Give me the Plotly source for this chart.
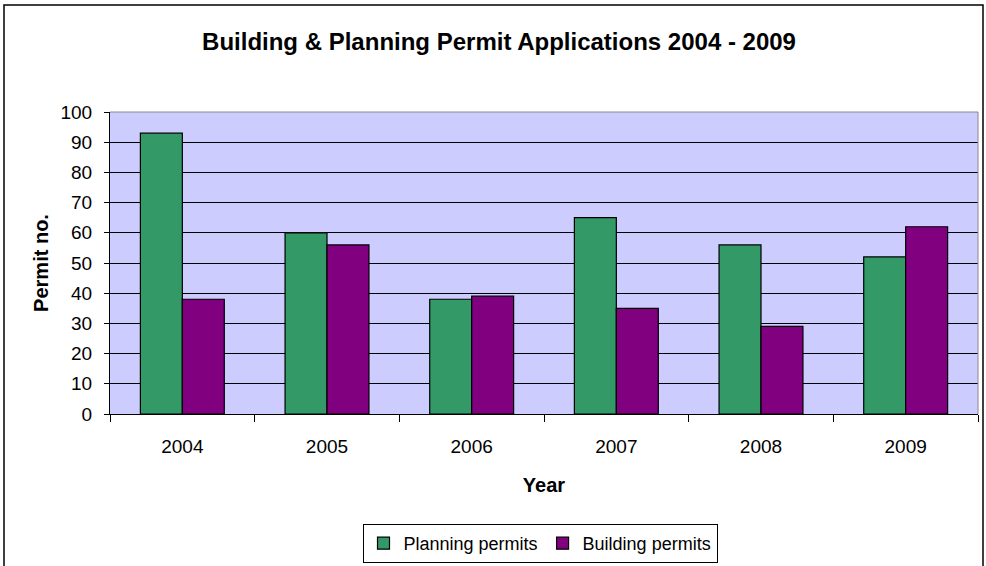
import plotly.graph_objects as go

years = ["2004", "2005", "2006", "2007", "2008", "2009"]
planning = [93, 60, 38, 65, 56, 52]
building = [38, 56, 39, 35, 29, 62]

W, H = 986, 566
L, R, T, B = 110, 8, 112, 152
pw, ph = W - L - R, H - T - B

def px(x):
    return (x - L) / pw

def py(y):
    return (H - B - y) / ph

fig = go.Figure()
fig.add_trace(go.Bar(x=years, y=planning, name="Planning permits",
                     marker=dict(color="#339966", line=dict(color="black", width=1.2))))
fig.add_trace(go.Bar(x=years, y=building, name="Building permits",
                     marker=dict(color="#800080", line=dict(color="black", width=1.2))))

fig.update_layout(
    width=W, height=H,
    autosize=False,
    margin=dict(l=L, r=R, t=T, b=B, autoexpand=False),
    paper_bgcolor="white",
    plot_bgcolor="#CCCCFF",
    font=dict(family="Arial", size=19, color="black"),
    title=dict(text="<b>Building & Planning Permit Applications 2004 - 2009</b>",
               x=px(499), xref="paper", xanchor="center", y=1 - 42 / H, yanchor="middle",
               font=dict(size=24)),
    barmode="group",
    bargap=0.42,
    bargroupgap=0,
    showlegend=True,
    legend=dict(orientation="h", x=px(540), xanchor="center", y=py(524), yanchor="top",
                bordercolor="black", borderwidth=1, bgcolor="white",
                font=dict(size=18), itemwidth=30, traceorder="normal",
                tracegroupgap=0),
    xaxis=dict(
        title=dict(text="<b>Year</b>", font=dict(size=20), standoff=22),
        type="category",
        tickson="boundaries",
        ticks="outside", ticklen=7, tickcolor="black",
        ticklabelstandoff=15,
        showline=True, linecolor="black", linewidth=1,
        showgrid=False,
        tickfont=dict(size=19),
    ),
    yaxis=dict(
        title=dict(text="<b>Permit no.</b>", font=dict(size=20), standoff=6),
        range=[0, 100], dtick=10,
        ticks="outside", ticklen=5, tickcolor="black",
        ticklabelstandoff=8,
        showline=True, linecolor="black", linewidth=1,
        showgrid=True, gridcolor="black", gridwidth=1,
        zeroline=False,
        tickfont=dict(size=19),
    ),
    shapes=[
        dict(type="rect", xref="paper", yref="paper",
             x0=px(4), x1=px(983), y0=py(570), y1=py(5),
             line=dict(color="black", width=1.5), layer="below"),
        dict(type="line", xref="paper", yref="paper",
             x0=1, x1=1, y0=0, y1=1, line=dict(color="#888888", width=1)),
        dict(type="line", xref="paper", yref="paper",
             x0=0, x1=1, y0=1, y1=1, line=dict(color="#888888", width=1)),
    ],
)

fig.write_html("out.html", config={"responsive": False, "displayModeBar": False},
               post_script="document.body.style.margin='0';document.body.style.overflow='hidden';")
